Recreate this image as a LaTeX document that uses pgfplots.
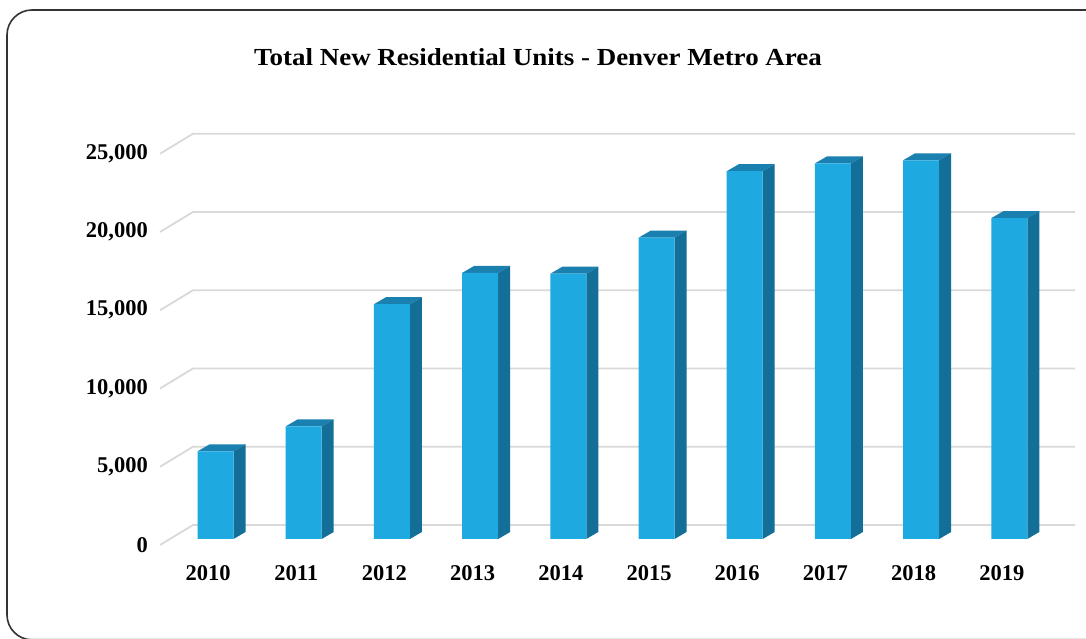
\documentclass[border=0pt]{standalone}
\usepackage{pgfplots}
\pgfplotsset{compat=1.18}
\usepackage{pgfplotstable}
\usepackage{fontspec}
\setmainfont{Liberation Serif}

\definecolor{barfront}{HTML}{1FA9E1}
\definecolor{barside}{HTML}{136F97}
\definecolor{bartop}{HTML}{1A80AF}
\definecolor{gridgray}{HTML}{D9D9D9}

% new residential units per year
\pgfplotstableread{
idx year units
0 2010 5600
1 2011 7200
2 2012 15000
3 2013 17000
4 2014 16950
5 2015 19250
6 2016 23500
7 2017 24000
8 2018 24200
9 2019 20500
}\data

% bar geometry, axis units
\def\halfw{0.204}
\def\depx{0.136}
\def\depy{447}

\begin{document}
\begin{tikzpicture}[x=1pt,y=1pt]
\useasboundingbox (0,0) rectangle (1086,639);
\clip (0,0) rectangle (1086,639);
\fill[white] (0,0) rectangle (1086,639);
\draw[line width=1.6pt, black!80, rounded corners=25pt] (7,-0.8) rectangle (1120,629);
\node[font=\fontsize{24.5}{28}\selectfont\bfseries] at (538,582)
  {\scalebox{1.1}[1]{Total New Residential Units - Denver Metro Area}};

\begin{axis}[
  at={(170pt,100pt)}, anchor=south west,
  scale only axis, width=882pt, height=391.25pt,
  xmin=-0.516, xmax=9.484, ymin=0, ymax=25000,
  clip=false,
  axis line style={draw=none},
  tick style={draw=none},
  major tick length=0pt,
  xtick={0,...,9},
  xticklabels={2010,2011,2012,2013,2014,2015,2016,2017,2018,2019},
  ytick={0,5000,10000,15000,20000,25000},
  scaled y ticks=false,
  /pgf/number format/.cd, 1000 sep={,}, assume math mode=true, /pgfplots/.cd,
  ticklabel style={font=\fontsize{22.5}{26}\selectfont\bfseries, inner sep=0pt},
  yticklabel style={anchor=east, xshift=-22pt, yshift=-6pt},
  xticklabel style={anchor=north, xshift=-7.5pt, yshift=-26pt},
]
% gridlines: slanted floor edge plus back wall
\pgfplotsinvokeforeach{0,5000,10000,15000,20000,25000}{
  \draw[gridgray, line width=1.8pt]
    ([shift={(-10pt,-6pt)}]axis cs:-0.516,#1) --
    ([shift={(23pt,14pt)}]axis cs:-0.516,#1) --
    ([shift={(23pt,14pt)}]axis cs:9.484,#1);
}
% top and side faces of each bar
\pgfplotsinvokeforeach{0,...,9}{
  \pgfplotstablegetelem{#1}{units}\of\data
  \pgfkeys{/pgf/fpu=true,/pgf/fpu/output format=fixed}
  \pgfmathsetmacro\va{\pgfplotsretval}
  \pgfmathsetmacro\vb{\pgfplotsretval+\depy}
  \pgfmathsetmacro\xl{#1-\halfw}
  \pgfmathsetmacro\xr{#1+\halfw}
  \pgfmathsetmacro\xlb{#1-\halfw+\depx}
  \pgfmathsetmacro\xrb{#1+\halfw+\depx}
  \pgfkeys{/pgf/fpu=false}
  \edef\faces{%
    \noexpand\addplot[fill=bartop, draw=none] coordinates
      {(\xl,\va) (\xr,\va) (\xrb,\vb) (\xlb,\vb)} -- cycle;
    \noexpand\addplot[fill=barside, draw=none] coordinates
      {(\xr,0) (\xrb,\depy) (\xrb,\vb) (\xr,\va)} -- cycle;
  }
  \faces
}
% front faces
\addplot[ybar, bar width=0.408, bar shift=0pt, fill=barfront, draw=none]
  table[x=idx, y=units] {\data};
\end{axis}
\end{tikzpicture}
\end{document}
